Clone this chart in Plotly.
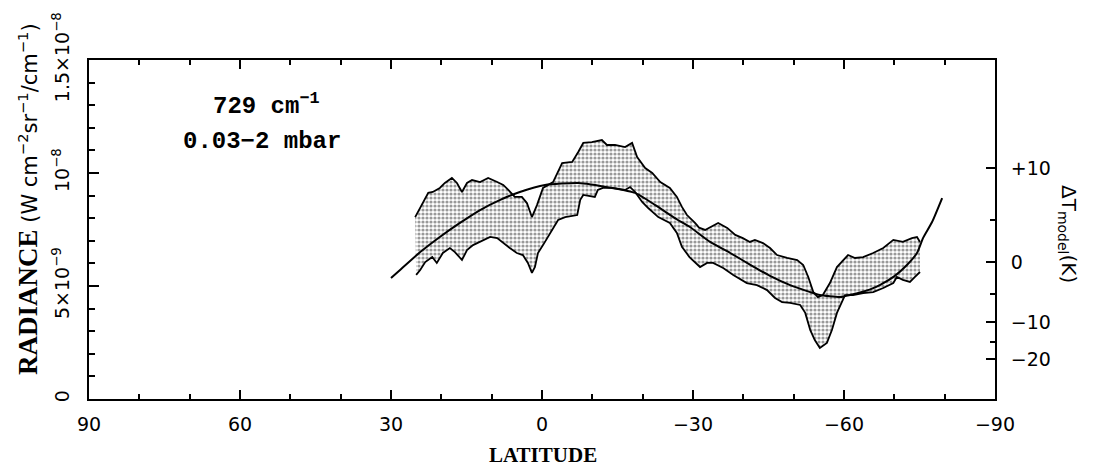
import plotly.graph_objects as go

# Observed radiance envelope (units of 1e-9 W cm^-2 sr^-1 / cm^-1) vs latitude
upper_lat = [25.2, 23.6, 22.6, 21.7, 20.3, 19.3, 17.9, 16.9, 15.9, 14.9, 13.9, 12.3, 10.7, 8.9,
             7.7, 6.7, 5.4, 4.0, 3.0, 2.0, 1.0, -0.2, -1.2, -2.2, -4.0, -6.0, -7.2, -8.2, -9.9,
             -11.9, -12.9, -14.5, -16.5, -17.9, -18.9, -20.5, -21.9, -23.5, -25.4, -26.8, -27.8,
             -28.8, -30.4, -31.2, -32.4, -33.4, -35.0, -36.8, -38.4, -39.9, -41.3, -42.3, -43.9,
             -45.3, -46.7, -48.7, -50.7, -51.9, -52.9, -53.9, -54.8, -55.8, -57.2, -58.6, -59.8,
             -60.8, -62.2, -63.8, -65.8, -67.8, -69.8, -71.7, -73.5, -74.5, -75.1]
upper_rad = [8.05, 8.67, 9.12, 9.16, 9.34, 9.56, 9.78, 9.56, 9.16, 9.56, 9.69, 9.60, 9.78, 9.60,
             9.47, 9.25, 8.94, 8.94, 8.67, 8.05, 8.58, 9.34, 9.47, 9.60, 10.44, 10.49, 10.93, 11.33,
             11.37, 11.46, 11.24, 11.24, 11.15, 11.33, 10.71, 10.22, 10.00, 9.60, 9.34, 8.94, 8.50,
             8.14, 7.79, 7.58, 7.48, 7.61, 7.79, 7.57, 7.26, 7.12, 6.95, 7.04, 6.90,
             6.68, 6.37, 6.24, 6.15, 5.93, 5.40, 4.73, 4.51, 4.60, 5.13, 5.84, 6.15,
             6.37, 6.24, 6.28, 6.46, 6.68, 7.04, 6.95, 7.12, 7.17, 6.95]

lower_lat = [25.0, 24.2, 23.2, 21.8, 20.9, 19.7, 18.3, 17.3, 15.9, 14.9, 13.7, 11.7, 10.3, 8.9,
             7.7, 6.4, 5.0, 3.8, 2.8, 2.0, 1.4, 0.8, -0.2, -2.0, -3.2, -4.6, -7.0, -7.6, -8.2,
             -10.5, -11.1, -12.1, -13.9, -16.5, -17.5, -18.5, -19.9, -21.1, -23.1, -25.4, -26.8,
             -27.8, -29.3, -31.4, -32.8, -34.0, -36.0, -38.0, -40.7, -42.7, -44.7, -46.3, -47.7,
             -49.3, -51.3, -52.3, -53.3, -54.2, -55.2, -56.6, -57.6, -58.6, -59.6, -60.2, -61.8,
             -63.8, -65.8, -67.8, -69.8, -70.5, -71.7, -73.1, -74.1, -75.1]
lower_rad = [5.49, 5.71, 6.06, 6.28, 6.02, 6.46, 6.68, 6.50, 6.15, 6.59, 6.81, 7.04, 7.17, 7.12,
             6.90, 6.68, 6.46, 6.37, 6.02, 5.58, 5.84, 6.46, 6.81, 7.48, 7.92, 8.05, 8.14, 8.81, 9.03,
             8.94, 9.25, 9.34, 9.34, 9.25, 9.38, 9.16, 8.72, 8.45, 8.05, 7.79, 7.35,
             6.73, 6.28, 5.84, 6.02, 6.02, 5.80, 5.49, 5.13, 5.04, 4.82, 4.47, 4.29,
             4.25, 4.16, 3.81, 3.05, 2.61, 2.26, 2.48, 3.05, 3.81, 4.29, 4.60, 4.60,
             4.69, 4.73, 4.91, 5.13, 5.40, 5.27, 5.18, 5.40, 5.62]

# Model radiance curve
model_lat = [30.0, 28.2, 24.2, 20.3, 16.3, 12.3, 8.3, 4.4, -0.6, -7.2, -13.9, -18.5, -22.5, -27.0,
             -29.4, -33.4, -37.4, -41.3, -45.3, -49.3, -53.3, -55.2, -59.2, -61.2, -65.2, -67.2,
             -70.1, -72.5, -74.5, -75.7, -77.5, -79.5]
model_rad = [5.35, 5.71, 6.50, 7.17, 7.79, 8.36, 8.81, 9.16, 9.47, 9.56, 9.34, 9.12, 8.58, 7.92,
             7.61, 6.95, 6.46, 5.95, 5.45, 5.04, 4.73, 4.60, 4.51, 4.60, 4.85, 5.05,
             5.45, 5.93, 6.46, 7.12, 7.83, 8.89]

# Radiance axis labels
rad_ticks = [0, 5, 10, 15]
rad_ticktext = ["0", "5×10<sup>−9</sup>", "10<sup>−8</sup>", "1.5×10<sup>−8</sup>"]

# Temperature-offset scale (radiance equivalents of ΔT in K)
dT_text = ["+10", "0", "−10", "−20"]
dT_rad = [10.22, 6.06, 3.41, 1.77]
dT_minor_rad = [7.92, 4.65, 2.52]

SANS = "DejaVu Sans"
SERIF = "Liberation Serif"
MONO = "Liberation Mono"

fig = go.Figure()

# stippled envelope between lower and upper observed radiance
poly_x = upper_lat + lower_lat[::-1]
poly_y = upper_rad + lower_rad[::-1]
fig.add_trace(go.Scatter(
    x=poly_x, y=poly_y, mode="lines", fill="toself",
    line=dict(width=0, color="rgba(0,0,0,0)"),
    fillcolor="white",
    fillpattern=dict(shape=".", size=4, solidity=0.5, fgcolor="#333333", bgcolor="white"),
    hoverinfo="skip", showlegend=False))

for xs, ys in ((upper_lat, upper_rad), (lower_lat, lower_rad)):
    fig.add_trace(go.Scatter(x=xs, y=ys, mode="lines",
                             line=dict(color="black", width=1.8),
                             showlegend=False))

fig.add_trace(go.Scatter(x=model_lat, y=model_rad, mode="lines",
                         line=dict(color="black", width=2, shape="spline", smoothing=0.5),
                         showlegend=False))

# anchor trace so the ΔT axis on the right is drawn
fig.add_trace(go.Scatter(x=[0], y=[0], yaxis="y2", mode="markers",
                         marker=dict(opacity=0), hoverinfo="skip", showlegend=False))

axis_common = dict(showgrid=False, zeroline=False, showline=True,
                   linecolor="black", linewidth=2, tickcolor="black", tickwidth=1.5,
                   tickfont=dict(family=SANS, size=19, color="black"))

fig.update_layout(
    width=1094, height=471,
    margin=dict(l=89, r=99, t=60, b=72),
    paper_bgcolor="white", plot_bgcolor="white",
    showlegend=False,
    xaxis=dict(range=[90, -90], tickmode="linear", tick0=0, dtick=30,
               ticks="inside", ticklen=9, mirror="ticks", ticklabelstandoff=7,
               minor=dict(tickmode="linear", tick0=0, dtick=10, ticks="inside", ticklen=5,
                          tickcolor="black", tickwidth=1.5),
               **axis_common),
    yaxis=dict(range=[0, 15], tickmode="array", tickvals=rad_ticks, ticktext=rad_ticktext,
               tickangle=-90, ticks="inside", ticklen=10, ticklabelstandoff=10,
               minor=dict(tickmode="linear", tick0=0, dtick=1, ticks="inside", ticklen=6,
                          tickcolor="black", tickwidth=1.5),
               **axis_common),
    yaxis2=dict(range=[0, 15], overlaying="y", side="right", anchor="x",
                tickmode="array", tickvals=dT_rad, ticktext=dT_text,
                ticks="inside", ticklen=9, ticklabelstandoff=10,
                minor=dict(tickmode="array", tickvals=dT_minor_rad, ticks="inside", ticklen=5,
                           tickcolor="black", tickwidth=1.5),
                **axis_common),
)

def px(xp, yp):
    return (xp - 89) / 906, (399 - yp) / 339

annots = [
    (px(266, 104), "<b>729 cm<sup>−1</sup></b>", dict(family=MONO, size=24, color="black"), 0),
    (px(262, 141), "<b>0.03−2 mbar</b>", dict(family=MONO, size=24, color="black"), 0),
    (px(543, 455), "<b>LATITUDE</b>", dict(family=SERIF, size=21, color="black"), 0),
    (px(28, 199),
     "<span style='font-family:Liberation Serif;font-size:27px'><b>RADIANCE</b></span> "
     "(W cm<sup>−2</sup>sr<sup>−1</sup>/cm<sup>−1</sup>)",
     dict(family=SANS, size=21, color="black"), -90),
    (px(1068, 234), "ΔT<sub>model</sub>(K)", dict(family=SANS, size=20, color="black"), 90),
]
for (ax_, ay_), txt, fnt, ang in annots:
    fig.add_annotation(x=ax_, y=ay_, xref="paper", yref="paper", text=txt, showarrow=False,
                       font=fnt, textangle=ang, xanchor="center", yanchor="middle")

fig.write_html("out.html")
